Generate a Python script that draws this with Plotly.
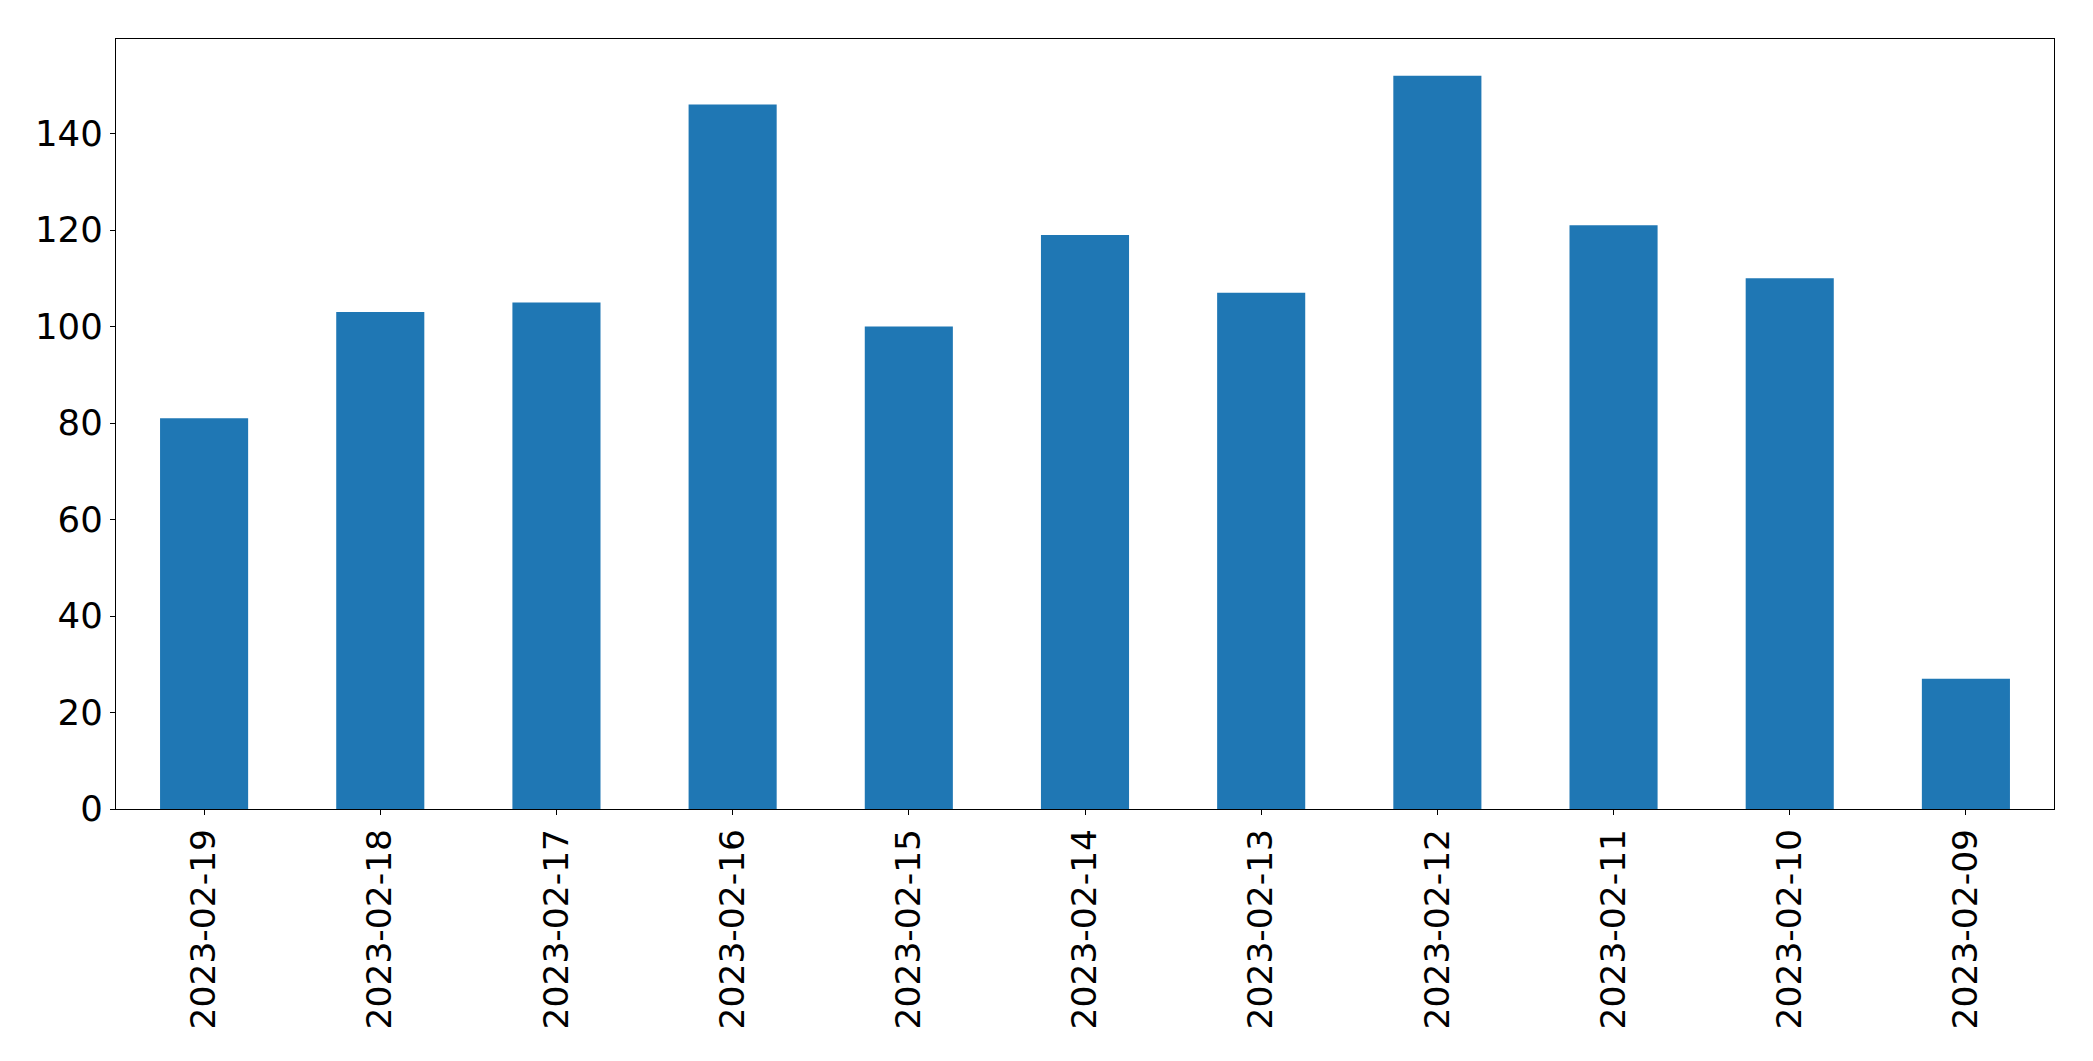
import plotly.graph_objects as go

dates = ["2023-02-19", "2023-02-18", "2023-02-17", "2023-02-16", "2023-02-15",
         "2023-02-14", "2023-02-13", "2023-02-12", "2023-02-11", "2023-02-10",
         "2023-02-09"]
counts = [81, 103, 105, 146, 100, 119, 107, 152, 121, 110, 27]
y_ticks = [0, 20, 40, 60, 80, 100, 120, 140]

fig = go.Figure(go.Bar(x=dates, y=counts, marker=dict(color="#1f77b4", line=dict(width=0)),
                       width=0.5))

xfont = dict(family="DejaVu Sans", size=34.5, color="black")
yfont = dict(family="DejaVu Sans", size=35.5, color="black")
fig.update_layout(
    width=2093, height=1061,
    margin=dict(l=108, r=47, t=31, b=260, pad=0),
    plot_bgcolor="white", paper_bgcolor="white",
    showlegend=False,
    font=xfont,
)
fig.update_xaxes(type="category", range=[-0.5, 10.5], tickangle=-90,
                 showline=True, linecolor="black", linewidth=1.3, mirror=True,
                 ticks="outside", ticklen=5, tickcolor="black", tickwidth=1.3,
                 showgrid=False, zeroline=False, tickfont=xfont)
fig.update_yaxes(range=[0, 159.6], tickvals=y_ticks,
                 showline=True, linecolor="black", linewidth=1.3, mirror=True,
                 ticks="outside", ticklen=5, tickcolor="black", tickwidth=1.3,
                 showgrid=False, zeroline=False, tickfont=yfont)

fig.write_html("out.html")
